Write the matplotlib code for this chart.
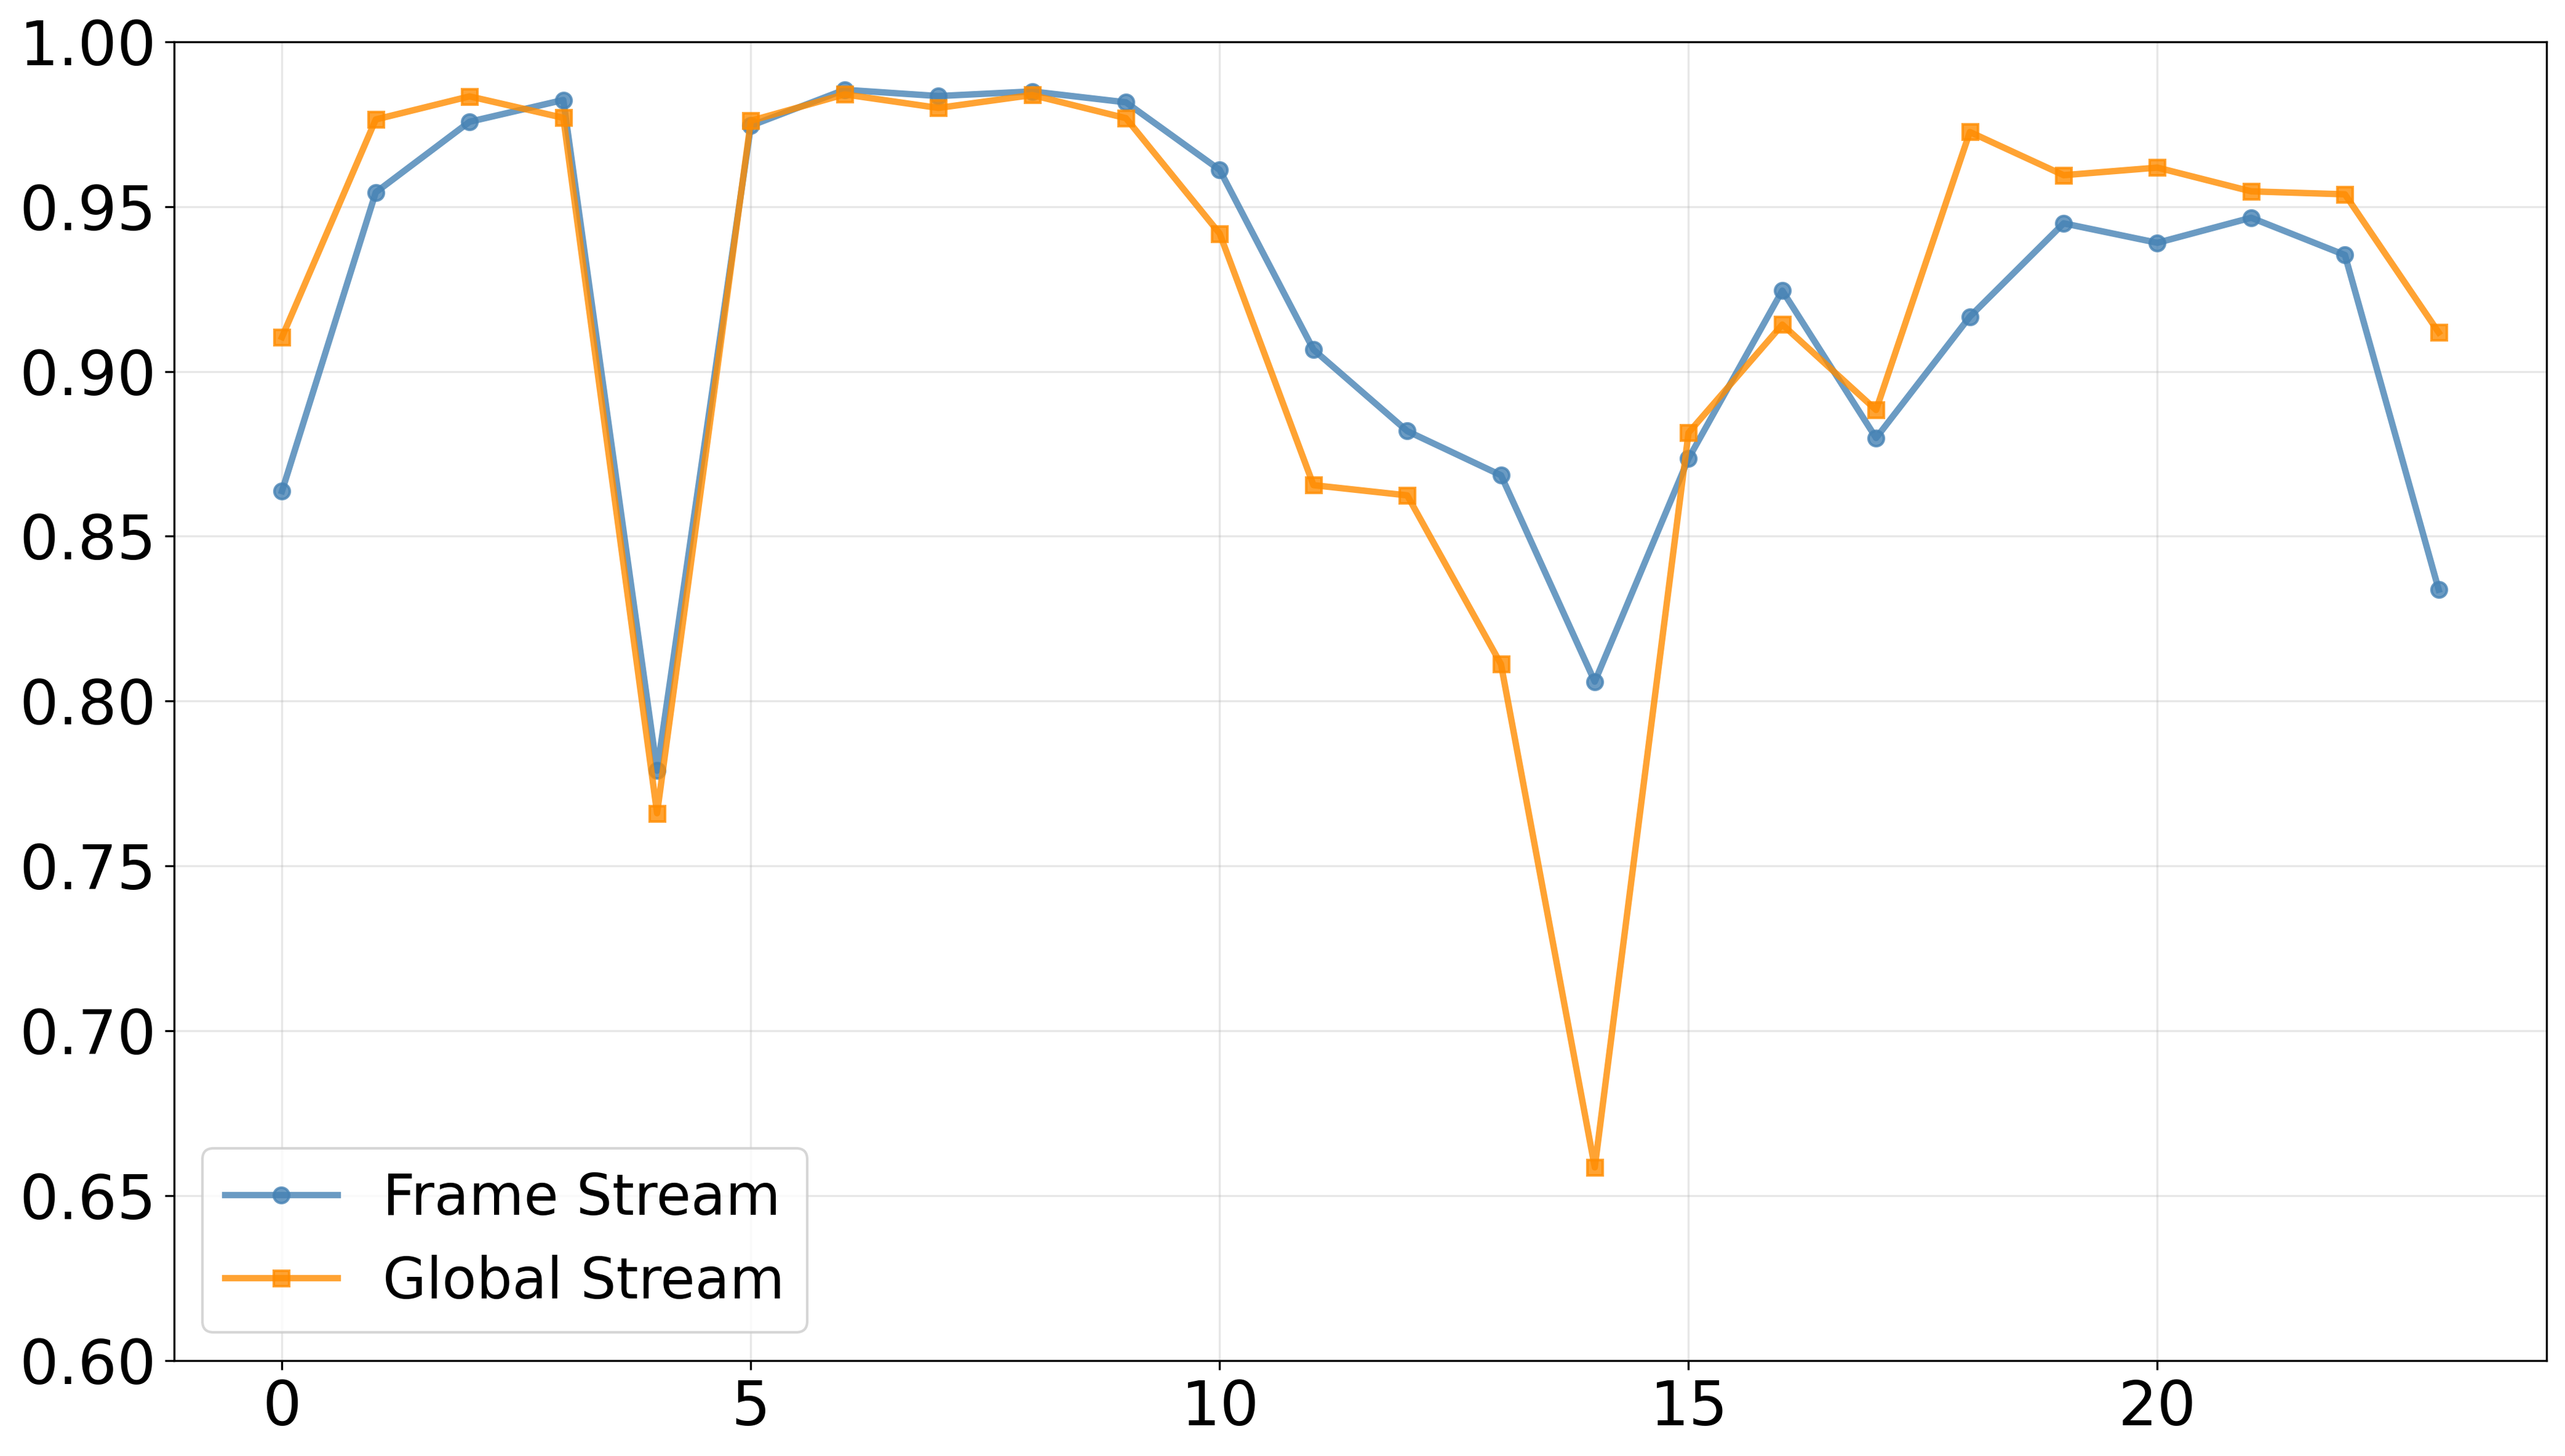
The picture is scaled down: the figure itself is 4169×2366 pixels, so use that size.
import matplotlib
matplotlib.use("Agg")
import matplotlib.pyplot as plt

# per-index scores
idx = list(range(24))
frame_stream = [0.8637, 0.9543, 0.9757, 0.9823, 0.7789, 0.9745, 0.9854, 0.9835,
                0.9849, 0.9816, 0.9611, 0.9066, 0.8819, 0.8685, 0.8059, 0.8736,
                0.9245, 0.8798, 0.9166, 0.9449, 0.9390, 0.9466, 0.9353, 0.8338]
global_stream = [0.9104, 0.9764, 0.9834, 0.9769, 0.7660, 0.9760, 0.9840, 0.9799,
                 0.9838, 0.9768, 0.9418, 0.8655, 0.8624, 0.8112, 0.6586, 0.8814,
                 0.9142, 0.8883, 0.9726, 0.9595, 0.9618, 0.9546, 0.9537, 0.9118]

fig = plt.figure(figsize=(4169 / 300, 2366 / 300), dpi=300)
ax = fig.add_axes([0.0679, 0.0655, 0.9928 - 0.0679, 0.9714 - 0.0655])

ax.plot(idx, frame_stream, color="steelblue", marker="o", lw=2.5, ms=6,
        alpha=0.8, label="Frame Stream")
ax.plot(idx, global_stream, color="darkorange", marker="s", lw=2.5, ms=6,
        alpha=0.8, label="Global Stream")

ax.set_ylim(0.6, 1.0)
ax.grid(True, alpha=0.3)
ax.tick_params(labelsize=24)
ax.legend(loc="lower left", fontsize=22)

fig.savefig("out.png", dpi=300)
